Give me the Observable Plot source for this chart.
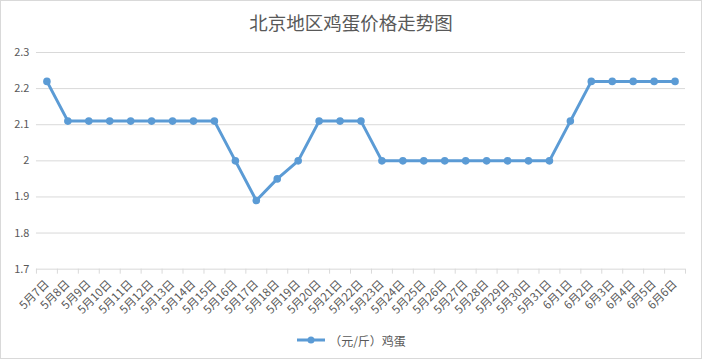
<!DOCTYPE html>
<html>
<head>
<meta charset="utf-8">
<script src="https://cdn.jsdelivr.net/npm/d3@7"></script>
<script src="https://cdn.jsdelivr.net/npm/@observablehq/plot@0.6"></script>
<style>
  html, body { margin: 0; padding: 0; background: #fff; }
  #wrap { position: relative; width: 702px; height: 359px; box-sizing: border-box; border: 1px solid #d9d9d9; background: #fff; font-family: "Noto Sans CJK SC", "Noto Sans", sans-serif; overflow: hidden; }
  #title { position: absolute; left: 0; top: 8px; width: 700px; text-align: center; font-size: 18.5px; color: #595959; line-height: 26px; }
  #chart { position: absolute; left: -1px; top: 43px; }
  #legend { position: absolute; left: 0; top: 328px; width: 700px; height: 22px; display: flex; justify-content: center; align-items: center; font-size: 12px; color: #595959; }
  #legend svg { margin-right: 3px; }
</style>
</head>
<body>
<div id="wrap">
  <div id="title">北京地区鸡蛋价格走势图</div>
  <div id="chart"></div>
  <div id="legend"><svg width="30" height="10"><line x1="1" x2="29" y1="5" y2="5" stroke="#5b9bd5" stroke-width="3"/><circle cx="15" cy="5" r="3.5" fill="#5b9bd5"/></svg><span>（元/斤）鸡蛋</span></div>
</div>
<script>
const dates = ["5月7日","5月8日","5月9日","5月10日","5月11日","5月12日","5月13日","5月14日","5月15日","5月16日","5月17日","5月18日","5月19日","5月20日","5月21日","5月22日","5月23日","5月24日","5月25日","5月26日","5月27日","5月28日","5月29日","5月30日","5月31日","6月1日","6月2日","6月3日","6月4日","6月5日","6月6日"];
const prices = [2.22,2.11,2.11,2.11,2.11,2.11,2.11,2.11,2.11,2.00,1.89,1.95,2.00,2.11,2.11,2.11,2.00,2.00,2.00,2.00,2.00,2.00,2.00,2.00,2.00,2.11,2.22,2.22,2.22,2.22,2.22];
const yTicks = [1.7,1.8,1.9,2.0,2.1,2.2,2.3];

const data = dates.map((d, i) => ({date: d, idx: i + 0.5, price: prices[i]}));

const chart = Plot.plot({
  width: 702,
  height: 282,
  marginLeft: 36,
  marginRight: 16,
  marginTop: 8,
  marginBottom: 57,
  style: {fontFamily: "'Noto Sans CJK SC', sans-serif", color: "#595959", background: "transparent"},
  x: {domain: [0, dates.length]},
  y: {domain: [1.7, 2.3]},
  marks: [
    Plot.ruleY(yTicks, {stroke: "#d9d9d9", strokeWidth: 1}),
    Plot.axisX({ticks: d3.range(dates.length + 1), tickSize: 5, tickFormat: () => "", stroke: "#d9d9d9", label: null}),
    Plot.axisX({ticks: data.map(d => d.idx), tickSize: 0, tickPadding: 13, tickRotate: -45, tickFormat: d => dates[Math.floor(d)], fontSize: 11.5, fill: "#595959", label: null}),
    Plot.axisY({ticks: yTicks, tickSize: 0, tickPadding: 7, tickFormat: d => String(+d.toFixed(1)), fontSize: 11, fill: "#595959", label: null}),
    Plot.line(data, {x: "idx", y: "price", stroke: "#5b9bd5", strokeWidth: 3, strokeLinejoin: "round"}),
    Plot.dot(data, {x: "idx", y: "price", r: 3.8, fill: "#5b9bd5", stroke: "none"})
  ]
});
document.getElementById("chart").appendChild(chart);
</script>
</body>
</html>
